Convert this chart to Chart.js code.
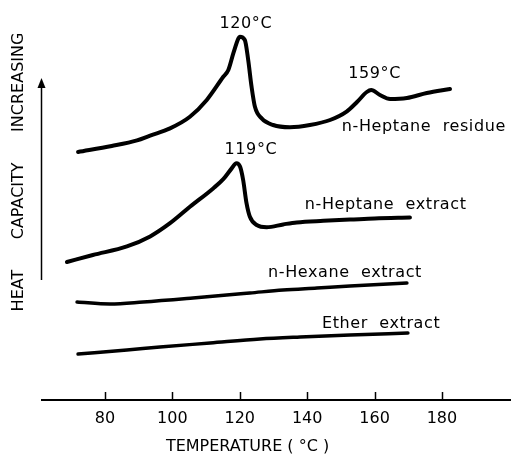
<!DOCTYPE html>
<html>
<head>
<meta charset="utf-8">
<script src="https://cdn.jsdelivr.net/npm/chart.js@4.4.0/dist/chart.umd.min.js"></script>
<style>
  html, body { margin: 0; padding: 0; background: #fff; }
</style>
</head>
<body>
<canvas id="myChart" width="511" height="454"></canvas>
<script>
// x axis
var tempTicks = [80, 100, 120, 140, 160, 180];

// n-Heptane residue
var residueT  = [72, 82, 89.5, 93.4, 99.3, 105.2, 110.2, 115.1, 116.6, 118.1, 119.6, 120, 121.5, 122.5, 123.5, 124.5, 126.5, 129.9, 134.9, 140.8, 146.8, 151.7, 154.8, 157.7, 159, 161.6, 164.6, 169.6, 175.5, 182.4];
var residueCp = [62, 63.5, 64.9, 66.1, 67.9, 70.8, 75, 80.8, 82.5, 86.7, 90.4, 90.8, 90, 85, 78.3, 73.3, 70.4, 68.75, 68.2, 68.75, 70, 72.1, 74.5, 77, 77.5, 76.25, 75.25, 75.5, 76.75, 77.75];

// n-Heptane extract
var heptExtT  = [68.7, 76.4, 86.5, 93.4, 99.3, 105.2, 112.1, 115.1, 117.6, 119, 120.1, 121, 122, 123, 125, 128, 132.9, 136.9, 144.8, 152.7, 160, 170.5];
var heptExtCp = [34.5, 36.25, 38.4, 40.9, 44.2, 48.3, 52.9, 55.2, 57.9, 59.2, 58.3, 55, 49.2, 45.8, 43.75, 43.2, 43.9, 44.4, 44.8, 45.1, 45.4, 45.6];

// n-Hexane extract
var hexExtT  = [71.7, 81.5, 91.3, 106.1, 123, 132.8, 142.9, 152.7, 169.6];
var hexExtCp = [24.5, 24, 24.5, 25.5, 26.75, 27.5, 28, 28.5, 29.25];

// Ether extract
var etherT  = [72, 86.5, 96.3, 111.2, 126, 137.9, 152.7, 169.9];
var etherCp = [11.5, 12.5, 13.25, 14.25, 15.25, 15.75, 16.25, 16.75];

// text on the plot: [text, temperature, level, align]
var notes = [
    ['120°C', 121.8, 94, 'center'],
    ['159°C', 160, 81.5, 'center'],
    ['119°C', 123.3, 62.5, 'center'],
    ['n-Heptane  residue', 150.3, 67.25, 'left'],
    ['n-Heptane  extract', 139.3, 47.75, 'left'],
    ['n-Hexane  extract', 128.4, 30.75, 'left'],
    ['Ether  extract', 144.4, 18, 'left']
];

var FONT = '16px "DejaVu Sans"';

function toPoints(xs, ys) {
    return xs.map(function (x, i) { return { x: x, y: ys[i] }; });
}

function curve(xs, ys, w) {
    return {
        data: toPoints(xs, ys),
        borderColor: '#000',
        borderWidth: w,
        pointRadius: 0,
        fill: false,
        cubicInterpolationMode: 'monotone',
        borderCapStyle: 'round',
        borderJoinStyle: 'round'
    };
}

// ticks pointing up, arrow, axis titles and curve names
var decor = {
    id: 'decor',
    afterDraw: function (chart) {
        var ctx = chart.ctx;
        var xs = chart.scales.x, ys = chart.scales.y;
        var area = chart.chartArea;

        ctx.save();
        ctx.strokeStyle = '#000';
        ctx.fillStyle = '#000';

        ctx.lineWidth = 1.5;
        tempTicks.forEach(function (t) {
            var px = Math.round(xs.getPixelForValue(t)) + 0.5;
            ctx.beginPath();
            ctx.moveTo(px, area.bottom);
            ctx.lineTo(px, area.bottom - 8);
            ctx.stroke();
        });

        // arrow
        var ax = area.left - 0.5;
        var yLow = ys.getPixelForValue(30);
        var yTip = ys.getPixelForValue(80.5);
        ctx.lineWidth = 1.5;
        ctx.beginPath();
        ctx.moveTo(ax, yLow);
        ctx.lineTo(ax, yTip + 6);
        ctx.stroke();
        ctx.beginPath();
        ctx.moveTo(ax, yTip);
        ctx.lineTo(ax - 4, yTip + 10);
        ctx.lineTo(ax + 4, yTip + 10);
        ctx.closePath();
        ctx.fill();

        ctx.font = FONT;

        // y title
        ctx.save();
        ctx.translate(19, ys.getPixelForValue(57));
        ctx.rotate(-Math.PI / 2);
        ctx.textAlign = 'center';
        ctx.textBaseline = 'middle';
        ctx.fillText('HEAT      CAPACITY      INCREASING', 0, 0);
        ctx.restore();

        // x title
        ctx.textAlign = 'center';
        ctx.textBaseline = 'middle';
        ctx.fillText('TEMPERATURE ( °C )', xs.getPixelForValue(122.3), chart.height - 7);

        ctx.letterSpacing = '0.6px';
        notes.forEach(function (n) {
            ctx.textAlign = n[3];
            ctx.textBaseline = n[3] === 'center' ? 'middle' : 'alphabetic';
            ctx.fillText(n[0], xs.getPixelForValue(n[1]), ys.getPixelForValue(n[2]));
        });

        ctx.restore();
    }
};

var ctx = document.getElementById('myChart').getContext('2d');

var myChart = new Chart(ctx, {
    type: 'line',
    data: {
        datasets: [
            curve(residueT, residueCp, 4),
            curve(heptExtT, heptExtCp, 4),
            curve(hexExtT, hexExtCp, 3.5),
            curve(etherT, etherCp, 3.5)
        ]
    },
    options: {
        responsive: false,
        devicePixelRatio: 1,
        animation: false,
        layout: { padding: { left: 42, right: 1, top: 0, bottom: 0 } },
        plugins: {
            legend: { display: false },
            tooltip: { enabled: false }
        },
        scales: {
            x: {
                type: 'linear',
                min: 61.3,
                max: 200.2,
                afterBuildTicks: function (scale) {
                    scale.ticks = tempTicks.map(function (v) { return { value: v }; });
                },
                afterFit: function (scale) { scale.height = 54; },
                grid: { display: false, drawTicks: false },
                border: { display: true, color: '#000', width: 2 },
                ticks: {
                    color: '#000',
                    font: { family: 'DejaVu Sans', size: 16 },
                    padding: 9,
                    autoSkip: false,
                    maxRotation: 0
                }
            },
            y: {
                display: false,
                min: 0,
                max: 100
            }
        }
    },
    plugins: [decor]
});
</script>
</body>
</html>
